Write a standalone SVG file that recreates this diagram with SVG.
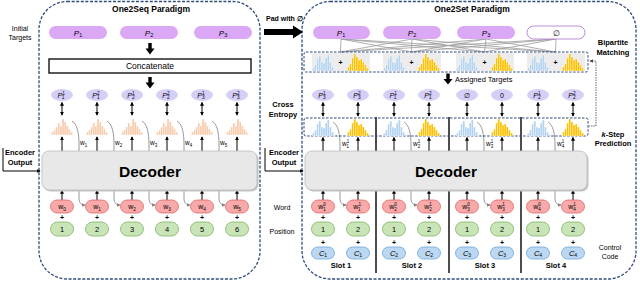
<svg xmlns="http://www.w3.org/2000/svg" xmlns:xlink="http://www.w3.org/1999/xlink" width="640" height="297" viewBox="0 0 640 297">
<style>
.t{font-family:"Liberation Sans",Arial,sans-serif;fill:#000}
.b{font-weight:bold}
.i{font-style:italic}
.pan{fill:none;stroke:#2f4b7c;stroke-width:1.3;stroke-dasharray:3 1.6}
.dbox{fill:none;stroke:#2f4b7c;stroke-width:1;stroke-dasharray:2.5 1.5}
.pbox{fill:#dba8f5}
.ell{fill:#d5cff7}
.wb{fill:#f8a9a9;stroke:#e06666;stroke-width:0.8}
.pos{fill:#c9e5b8;stroke:#82b366;stroke-width:0.8}
.cc{fill:#bcd7f1;stroke:#6fa8dc;stroke-width:0.8}
.dec{fill:#e8e8e8;stroke:#bdbdbd;stroke-width:0.8}
.sh{fill:#c4c4c4}
.arr{stroke:#000;stroke-width:1;fill:none;marker-end:url(#ah)}
.darr{stroke:#000;stroke-width:1;fill:none;marker-end:url(#ah);marker-start:url(#ah)}
.crv{fill:none;stroke:#7f7f7f;stroke-width:0.8;marker-end:url(#ahg)}
.bip{stroke:#9a9a9a;stroke-width:0.8}
.sep{stroke:#000;stroke-width:1.4}
.hbar rect{stroke:#fff;stroke-width:0.35}
.s{font-size:7px}
.lab{font-size:7.5px}
</style>
<defs>
<marker id="ah" viewBox="0 0 6 6" refX="5" refY="3" markerWidth="4" markerHeight="4" markerUnits="userSpaceOnUse" orient="auto-start-reverse"><path d="M0,0 L6,3 L0,6 z" fill="#000"/></marker>
<marker id="ahg" viewBox="0 0 6 6" refX="5" refY="3" markerWidth="3.5" markerHeight="3.5" markerUnits="userSpaceOnUse" orient="auto"><path d="M0,0 L6,3 L0,6 z" fill="#7f7f7f"/></marker>
<marker id="ahd" viewBox="0 0 6 6" refX="5" refY="3" markerWidth="3.5" markerHeight="3.5" markerUnits="userSpaceOnUse" orient="auto"><path d="M0,0 L6,3 L0,6 z" fill="#444"/></marker>
<g id="hp" class="hbar" fill="#f8cbad">
<rect x="0" y="14" width="2.1" height="3"/><rect x="2.1" y="12" width="2.1" height="5"/><rect x="4.2" y="9" width="2.1" height="8"/><rect x="6.3" y="5" width="2.1" height="12"/><rect x="8.4" y="8" width="2.1" height="9"/><rect x="10.5" y="1" width="2.1" height="16"/><rect x="12.6" y="4" width="2.1" height="13"/><rect x="14.7" y="8" width="2.1" height="9"/><rect x="16.8" y="11" width="2.1" height="6"/><rect x="18.9" y="14" width="2.1" height="3"/>
</g>
<g id="hb" class="hbar" fill="#b4d3f0">
<rect x="0" y="14" width="2.1" height="3"/><rect x="2.1" y="11" width="2.1" height="6"/><rect x="4.2" y="5" width="2.1" height="12"/><rect x="6.3" y="2" width="2.1" height="15"/><rect x="8.4" y="8" width="2.1" height="9"/><rect x="10.5" y="9" width="2.1" height="8"/><rect x="12.6" y="4" width="2.1" height="13"/><rect x="14.7" y="1" width="2.1" height="16"/><rect x="16.8" y="8" width="2.1" height="9"/><rect x="18.9" y="13" width="2.1" height="4"/>
</g>
<g id="hy" class="hbar" fill="#ffc000">
<rect x="0" y="13" width="2.1" height="4"/><rect x="2.1" y="10" width="2.1" height="7"/><rect x="4.2" y="4" width="2.1" height="13"/><rect x="6.3" y="0" width="2.1" height="17"/><rect x="8.4" y="3" width="2.1" height="14"/><rect x="10.5" y="6" width="2.1" height="11"/><rect x="12.6" y="5" width="2.1" height="12"/><rect x="14.7" y="8" width="2.1" height="9"/><rect x="16.8" y="11" width="2.1" height="6"/><rect x="18.9" y="14" width="2.1" height="3"/>
</g>
</defs>
<rect width="640" height="297" fill="#fff"/>

<!-- panels -->
<g id="panel-one2seq"><rect class="pan" x="39" y="1.5" width="221" height="277.5" rx="28"/>
<text class="t b" x="151" y="12" font-size="8.5" text-anchor="middle">One2Seq Paradigm</text></g>
<g id="panel-one2set"><rect class="pan" x="302" y="1.5" width="334" height="277.5" rx="28"/>
<text class="t b" x="472" y="12" font-size="8.5" text-anchor="middle">One2Set Paradigm</text></g>

<!-- side labels -->
<g id="labels">
<text class="t s" x="20" y="31" text-anchor="middle">Initial</text>
<text class="t s" x="20" y="40" text-anchor="middle">Targets</text>
<text class="t b lab" x="20" y="155" text-anchor="middle">Encoder</text>
<text class="t b lab" x="20" y="165" text-anchor="middle">Output</text>
<text class="t b lab" x="284" y="155" text-anchor="middle">Encoder</text>
<text class="t b lab" x="284" y="165" text-anchor="middle">Output</text>
<text class="t b s" x="266" y="21">Pad with ∅</text>
<text class="t b lab" x="283" y="107" text-anchor="middle">Cross</text>
<text class="t b lab" x="283" y="117" text-anchor="middle">Entropy</text>
<text class="t b lab" x="613" y="45" text-anchor="middle">Bipartite</text>
<text class="t b lab" x="613" y="55" text-anchor="middle">Matching</text>
<text class="t b lab" x="613" y="136.5" text-anchor="middle"><tspan class="i">k</tspan>-Step</text>
<text class="t b lab" x="613" y="146" text-anchor="middle">Prediction</text>
<text class="t lab" x="455" y="82">Assigned Targets</text>
<text class="t s" x="282" y="209.5" text-anchor="middle">Word</text>
<text class="t s" x="282" y="233.5" text-anchor="middle">Position</text>
<text class="t s" x="610" y="250" text-anchor="middle">Control</text>
<text class="t s" x="610" y="259" text-anchor="middle">Code</text>
<text class="t b lab" x="341" y="268" text-anchor="middle">Slot 1</text>
<text class="t b lab" x="412" y="268" text-anchor="middle">Slot 2</text>
<text class="t b lab" x="485" y="268" text-anchor="middle">Slot 3</text>
<text class="t b lab" x="556" y="268" text-anchor="middle">Slot 4</text>
</g>

<!-- connectors -->
<g id="connectors">
<polygon points="148.3,43 151.7,43 151.7,48.5 154.5,48.5 150,54.5 145.5,48.5 148.3,48.5" fill="#000"/>
<polygon points="148.3,77 151.7,77 151.7,82.5 154.5,82.5 150,88.5 145.5,82.5 148.3,82.5" fill="#000"/>
<polygon points="446.3,73.5 449.7,73.5 449.7,79 452.5,79 448,84.5 443.5,79 446.3,79" fill="#000"/>
<polygon points="264,29 293,29 293,25.5 303,32 293,38.5 293,35 264,35" fill="#000"/>
<path class="arr" d="M3,148 V171 H40"/>
<path class="arr" d="M265,148 V171 H303"/>
<!-- bipartite -->
<g class="bip">
<line x1="341" y1="39" x2="340.5" y2="52"/><line x1="341" y1="39" x2="411.5" y2="52"/><line x1="341" y1="39" x2="484.5" y2="52"/><line x1="341" y1="39" x2="555.5" y2="52"/>
<line x1="412" y1="39" x2="340.5" y2="52"/><line x1="412" y1="39" x2="411.5" y2="52"/><line x1="412" y1="39" x2="484.5" y2="52"/><line x1="412" y1="39" x2="555.5" y2="52"/>
<line x1="486" y1="39" x2="340.5" y2="52"/><line x1="486" y1="39" x2="411.5" y2="52"/><line x1="486" y1="39" x2="484.5" y2="52"/><line x1="486" y1="39" x2="555.5" y2="52"/>
<line x1="556" y1="39" x2="340.5" y2="52"/><line x1="556" y1="39" x2="411.5" y2="52"/><line x1="556" y1="39" x2="484.5" y2="52"/><line x1="556" y1="39" x2="555.5" y2="52"/>
</g>
<path d="M588.5,126 H596 V61 H590" fill="none" stroke="#444" stroke-width="0.8" stroke-dasharray="1.5 1" marker-end="url(#ahd)"/>
<!-- left column arrows -->
<path class="darr" d="M62,102.5 V115"/><path class="darr" d="M97,102.5 V115"/><path class="darr" d="M132,102.5 V115"/><path class="darr" d="M167,102.5 V115"/><path class="darr" d="M202,102.5 V115"/><path class="darr" d="M237,102.5 V115"/>
<path class="arr" d="M62,151 V137"/><path class="arr" d="M97,151 V137"/><path class="arr" d="M132,151 V137"/><path class="arr" d="M167,151 V137"/><path class="arr" d="M202,151 V137"/><path class="arr" d="M237,151 V137"/>
<path class="arr" d="M62,200 V190.5"/><path class="arr" d="M97,200 V190.5"/><path class="arr" d="M132,200 V190.5"/><path class="arr" d="M167,200 V190.5"/><path class="arr" d="M202,200 V190.5"/><path class="arr" d="M237,200 V190.5"/>
<path class="crv" d="M72,121 C77,124 79,132 79,145 V198 C79,203 81,205 85,205"/>
<path class="crv" d="M107,121 C112,124 114,132 114,145 V198 C114,203 116,205 120,205"/>
<path class="crv" d="M142,121 C147,124 149,132 149,145 V198 C149,203 151,205 155,205"/>
<path class="crv" d="M177,121 C182,124 184,132 184,145 V198 C184,203 186,205 190,205"/>
<path class="crv" d="M212,121 C217,124 219,132 219,145 V198 C219,203 221,205 225,205"/>
<!-- right column arrows -->
<path class="darr" d="M323,102.5 V116"/><path class="darr" d="M358,102.5 V116"/><path class="darr" d="M394,102.5 V116"/><path class="darr" d="M429,102.5 V116"/><path class="darr" d="M467,102.5 V116"/><path class="darr" d="M502,102.5 V116"/><path class="darr" d="M538,102.5 V116"/><path class="darr" d="M573,102.5 V116"/>
<path class="arr" d="M323,151 V137.5"/><path class="arr" d="M358,151 V137.5"/><path class="arr" d="M394,151 V137.5"/><path class="arr" d="M429,151 V137.5"/><path class="arr" d="M467,151 V137.5"/><path class="arr" d="M502,151 V137.5"/><path class="arr" d="M538,151 V137.5"/><path class="arr" d="M573,151 V137.5"/>
<path class="arr" d="M323,200 V190.5"/><path class="arr" d="M358,200 V190.5"/><path class="arr" d="M394,200 V190.5"/><path class="arr" d="M429,200 V190.5"/><path class="arr" d="M467,200 V190.5"/><path class="arr" d="M502,200 V190.5"/><path class="arr" d="M538,200 V190.5"/><path class="arr" d="M573,200 V190.5"/>
<path class="crv" d="M333,122 C338,125 340,133 340,146 V198 C340,203 342,205 346,205"/>
<path class="crv" d="M404,122 C409,125 411,133 411,146 V198 C411,203 413,205 417,205"/>
<path class="crv" d="M477,122 C482,125 484,133 484,146 V198 C484,203 486,205 490,205"/>
<path class="crv" d="M548,122 C553,125 555,133 555,146 V198 C555,203 557,205 561,205"/>
<line class="sep" x1="376" y1="117" x2="376" y2="273"/>
<line class="sep" x1="449" y1="117" x2="449" y2="273"/>
<line class="sep" x1="521" y1="117" x2="521" y2="273"/>
</g>

<!-- left panel nodes -->
<g id="targets-left">
<rect class="pbox" x="49" y="26" width="58" height="13" rx="6.5"/>
<rect class="pbox" x="120" y="26" width="58" height="13" rx="6.5"/>
<rect class="pbox" x="194" y="26" width="58" height="13" rx="6.5"/>
<text class="t i" x="78" y="35.5" font-size="8" text-anchor="middle">P<tspan font-size="5.5" dy="1.8" font-style="normal">1</tspan></text>
<text class="t i" x="149" y="35.5" font-size="8" text-anchor="middle">P<tspan font-size="5.5" dy="1.8" font-style="normal">2</tspan></text>
<text class="t i" x="223" y="35.5" font-size="8" text-anchor="middle">P<tspan font-size="5.5" dy="1.8" font-style="normal">3</tspan></text>
</g>
<g id="concatenate"><rect x="49" y="59" width="202" height="14" fill="#fff" stroke="#000" stroke-width="1.3"/>
<text class="t" x="150" y="69" font-size="8.5" text-anchor="middle">Concatenate</text></g>

<g id="outputs-left">
<ellipse class="ell" cx="62" cy="95" rx="11" ry="6"/><ellipse class="ell" cx="97" cy="95" rx="11" ry="6"/><ellipse class="ell" cx="132" cy="95" rx="11" ry="6"/><ellipse class="ell" cx="167" cy="95" rx="11" ry="6"/><ellipse class="ell" cx="202" cy="95" rx="11" ry="6"/><ellipse class="ell" cx="237" cy="95" rx="11" ry="6"/>
<text class="t i" x="61" y="97.5" font-size="7" text-anchor="middle">P<tspan font-size="4.8" dy="-2.8" font-style="normal">1</tspan><tspan font-size="4.8" dx="-2.7" dy="4.5" font-style="normal">1</tspan></text>
<text class="t i" x="96" y="97.5" font-size="7" text-anchor="middle">P<tspan font-size="4.8" dy="-2.8" font-style="normal">2</tspan><tspan font-size="4.8" dx="-2.7" dy="4.5" font-style="normal">1</tspan></text>
<text class="t i" x="131" y="97.5" font-size="7" text-anchor="middle">P<tspan font-size="4.8" dy="-2.8" font-style="normal">1</tspan><tspan font-size="4.8" dx="-2.7" dy="4.5" font-style="normal">2</tspan></text>
<text class="t i" x="166" y="97.5" font-size="7" text-anchor="middle">P<tspan font-size="4.8" dy="-2.8" font-style="normal">2</tspan><tspan font-size="4.8" dx="-2.7" dy="4.5" font-style="normal">2</tspan></text>
<text class="t i" x="201" y="97.5" font-size="7" text-anchor="middle">P<tspan font-size="4.8" dy="-2.8" font-style="normal">1</tspan><tspan font-size="4.8" dx="-2.7" dy="4.5" font-style="normal">3</tspan></text>
<text class="t i" x="236" y="97.5" font-size="7" text-anchor="middle">P<tspan font-size="4.8" dy="-2.8" font-style="normal">2</tspan><tspan font-size="4.8" dx="-2.7" dy="4.5" font-style="normal">3</tspan></text>
</g>
<g id="dists-left">
<use xlink:href="#hp" x="51.5" y="118"/><use xlink:href="#hp" x="86.5" y="118"/><use xlink:href="#hp" x="121.5" y="118"/><use xlink:href="#hp" x="156.5" y="118"/><use xlink:href="#hp" x="191.5" y="118"/><use xlink:href="#hp" x="226.5" y="118"/>
<text class="t" x="80" y="145" font-size="6.5">w<tspan font-size="4.5" dy="1.5">1</tspan></text>
<text class="t" x="115" y="145" font-size="6.5">w<tspan font-size="4.5" dy="1.5">2</tspan></text>
<text class="t" x="150" y="145" font-size="6.5">w<tspan font-size="4.5" dy="1.5">3</tspan></text>
<text class="t" x="185" y="145" font-size="6.5">w<tspan font-size="4.5" dy="1.5">4</tspan></text>
<text class="t" x="220" y="145" font-size="6.5">w<tspan font-size="4.5" dy="1.5">5</tspan></text>
</g>
<g id="decoder-left"><rect class="sh" x="43.5" y="152.5" width="215" height="39" rx="7"/><rect class="dec" x="42" y="151" width="215" height="39" rx="7"/>
<text class="t b" x="150" y="177" font-size="15.5" text-anchor="middle">Decoder</text></g>
<g id="inputs-left">
<rect class="wb" x="50.5" y="200" width="23" height="13" rx="6.5"/><rect class="wb" x="85.5" y="200" width="23" height="13" rx="6.5"/><rect class="wb" x="120.5" y="200" width="23" height="13" rx="6.5"/><rect class="wb" x="155.5" y="200" width="23" height="13" rx="6.5"/><rect class="wb" x="190.5" y="200" width="23" height="13" rx="6.5"/><rect class="wb" x="225.5" y="200" width="23" height="13" rx="6.5"/>
<text class="t" x="62" y="209" font-size="7" text-anchor="middle">w<tspan font-size="4.8" dy="1.5">0</tspan></text>
<text class="t" x="97" y="209" font-size="7" text-anchor="middle">w<tspan font-size="4.8" dy="1.5">1</tspan></text>
<text class="t" x="132" y="209" font-size="7" text-anchor="middle">w<tspan font-size="4.8" dy="1.5">2</tspan></text>
<text class="t" x="167" y="209" font-size="7" text-anchor="middle">w<tspan font-size="4.8" dy="1.5">3</tspan></text>
<text class="t" x="202" y="209" font-size="7" text-anchor="middle">w<tspan font-size="4.8" dy="1.5">4</tspan></text>
<text class="t" x="237" y="209" font-size="7" text-anchor="middle">w<tspan font-size="4.8" dy="1.5">5</tspan></text>
<g class="t b" font-size="7" text-anchor="middle"><text x="62" y="220">+</text><text x="97" y="220">+</text><text x="132" y="220">+</text><text x="167" y="220">+</text><text x="202" y="220">+</text><text x="237" y="220">+</text></g>
<rect class="pos" x="50.5" y="222" width="23" height="14" rx="7"/><rect class="pos" x="85.5" y="222" width="23" height="14" rx="7"/><rect class="pos" x="120.5" y="222" width="23" height="14" rx="7"/><rect class="pos" x="155.5" y="222" width="23" height="14" rx="7"/><rect class="pos" x="190.5" y="222" width="23" height="14" rx="7"/><rect class="pos" x="225.5" y="222" width="23" height="14" rx="7"/>
<g class="t" font-size="7.5" text-anchor="middle"><text x="62" y="231.8">1</text><text x="97" y="231.8">2</text><text x="132" y="231.8">3</text><text x="167" y="231.8">4</text><text x="202" y="231.8">5</text><text x="237" y="231.8">6</text></g>
</g>

<!-- right panel nodes -->
<g id="targets-right">
<rect class="pbox" x="313" y="26" width="57" height="13" rx="6.5"/>
<rect class="pbox" x="383" y="26" width="58" height="13" rx="6.5"/>
<rect class="pbox" x="457" y="26" width="58" height="13" rx="6.5"/>
<rect x="527" y="26" width="58" height="13" rx="6.5" fill="#fff" stroke="#b57fd6" stroke-width="0.9"/>
<text class="t i" x="341" y="35.5" font-size="8" text-anchor="middle">P<tspan font-size="5.5" dy="1.8" font-style="normal">1</tspan></text>
<text class="t i" x="412" y="35.5" font-size="8" text-anchor="middle">P<tspan font-size="5.5" dy="1.8" font-style="normal">2</tspan></text>
<text class="t i" x="486" y="35.5" font-size="8" text-anchor="middle">P<tspan font-size="5.5" dy="1.8" font-style="normal">3</tspan></text>
<text class="t" x="556" y="35.5" font-size="8" text-anchor="middle">∅</text>
</g>
<g id="matching-box">
<rect class="dbox" x="304" y="52" width="284" height="20" rx="2"/>
<rect x="312" y="53" width="58" height="18" fill="#ececec"/><rect x="383" y="53" width="58" height="18" fill="#ececec"/><rect x="456" y="53" width="58" height="18" fill="#ececec"/><rect x="527" y="53" width="58" height="18" fill="#ececec"/>
<use xlink:href="#hb" x="312.5" y="54"/><use xlink:href="#hy" x="347.5" y="54"/>
<use xlink:href="#hb" x="383.5" y="54"/><use xlink:href="#hy" x="418.5" y="54"/>
<use xlink:href="#hb" x="456.5" y="54"/><use xlink:href="#hy" x="491.5" y="54"/>
<use xlink:href="#hb" x="527.5" y="54"/><use xlink:href="#hy" x="562.5" y="54"/>
<g class="t b" font-size="7" text-anchor="middle"><text x="340.5" y="65">+</text><text x="411.5" y="65">+</text><text x="484.5" y="65">+</text><text x="555.5" y="65">+</text></g>
</g>
<g id="outputs-right">
<ellipse class="ell" cx="323" cy="95" rx="11" ry="6"/><ellipse class="ell" cx="358" cy="95" rx="11" ry="6"/><ellipse class="ell" cx="394" cy="95" rx="11" ry="6"/><ellipse class="ell" cx="429" cy="95" rx="11" ry="6"/><ellipse class="ell" cx="467" cy="95" rx="11" ry="6"/><ellipse class="ell" cx="502" cy="95" rx="11" ry="6"/><ellipse class="ell" cx="538" cy="95" rx="11" ry="6"/><ellipse class="ell" cx="573" cy="95" rx="11" ry="6"/>
<text class="t i" x="322" y="97.5" font-size="7" text-anchor="middle">P<tspan font-size="4.8" dy="-2.8" font-style="normal">1</tspan><tspan font-size="4.8" dx="-2.7" dy="4.5" font-style="normal">3</tspan></text>
<text class="t i" x="357" y="97.5" font-size="7" text-anchor="middle">P<tspan font-size="4.8" dy="-2.8" font-style="normal">2</tspan><tspan font-size="4.8" dx="-2.7" dy="4.5" font-style="normal">3</tspan></text>
<text class="t i" x="393" y="97.5" font-size="7" text-anchor="middle">P<tspan font-size="4.8" dy="-2.8" font-style="normal">1</tspan><tspan font-size="4.8" dx="-2.7" dy="4.5" font-style="normal">1</tspan></text>
<text class="t i" x="428" y="97.5" font-size="7" text-anchor="middle">P<tspan font-size="4.8" dy="-2.8" font-style="normal">2</tspan><tspan font-size="4.8" dx="-2.7" dy="4.5" font-style="normal">1</tspan></text>
<text class="t" x="467" y="97.5" font-size="7" text-anchor="middle">∅</text>
<text class="t" x="502" y="97.5" font-size="7" text-anchor="middle">0</text>
<text class="t i" x="537" y="97.5" font-size="7" text-anchor="middle">P<tspan font-size="4.8" dy="-2.8" font-style="normal">1</tspan><tspan font-size="4.8" dx="-2.7" dy="4.5" font-style="normal">2</tspan></text>
<text class="t i" x="572" y="97.5" font-size="7" text-anchor="middle">P<tspan font-size="4.8" dy="-2.8" font-style="normal">2</tspan><tspan font-size="4.8" dx="-2.7" dy="4.5" font-style="normal">2</tspan></text>
</g>
<g id="prediction-box">
<rect class="dbox" x="304" y="118" width="284" height="18" rx="2"/>
<use xlink:href="#hb" x="312.5" y="119"/><use xlink:href="#hy" x="347.5" y="119"/>
<use xlink:href="#hb" x="383.5" y="119"/><use xlink:href="#hy" x="418.5" y="119"/>
<use xlink:href="#hb" x="456.5" y="119"/><use xlink:href="#hy" x="491.5" y="119"/>
<use xlink:href="#hb" x="527.5" y="119"/><use xlink:href="#hy" x="562.5" y="119"/>
<g class="t" font-size="6.5"><text x="342" y="146">w<tspan font-size="4.5" dy="-2.6">1</tspan><tspan font-size="4.5" dx="-2.5" dy="4.2">1</tspan></text>
<text x="413" y="146">w<tspan font-size="4.5" dy="-2.6">1</tspan><tspan font-size="4.5" dx="-2.5" dy="4.2">2</tspan></text>
<text x="486" y="146">w<tspan font-size="4.5" dy="-2.6">1</tspan><tspan font-size="4.5" dx="-2.5" dy="4.2">3</tspan></text>
<text x="557" y="146">w<tspan font-size="4.5" dy="-2.6">1</tspan><tspan font-size="4.5" dx="-2.5" dy="4.2">4</tspan></text></g>
</g>
<g id="decoder-right"><rect class="sh" x="306.5" y="152.5" width="282" height="39" rx="7"/><rect class="dec" x="305" y="151" width="282" height="39" rx="7"/>
<text class="t b" x="446" y="177" font-size="15.5" text-anchor="middle">Decoder</text></g>
<g id="inputs-right">
<rect class="wb" x="311.5" y="200" width="23" height="13" rx="6.5"/><rect class="wb" x="346.5" y="200" width="23" height="13" rx="6.5"/><rect class="wb" x="382.5" y="200" width="23" height="13" rx="6.5"/><rect class="wb" x="417.5" y="200" width="23" height="13" rx="6.5"/><rect class="wb" x="455.5" y="200" width="23" height="13" rx="6.5"/><rect class="wb" x="490.5" y="200" width="23" height="13" rx="6.5"/><rect class="wb" x="526.5" y="200" width="23" height="13" rx="6.5"/><rect class="wb" x="561.5" y="200" width="23" height="13" rx="6.5"/>
<g class="t" font-size="7" text-anchor="middle">
<text x="322" y="209">w<tspan font-size="4.6" dy="-2.6">0</tspan><tspan font-size="4.6" dx="-2.6" dy="4.2">1</tspan></text>
<text x="357" y="209">w<tspan font-size="4.6" dy="-2.6">1</tspan><tspan font-size="4.6" dx="-2.6" dy="4.2">1</tspan></text>
<text x="393" y="209">w<tspan font-size="4.6" dy="-2.6">0</tspan><tspan font-size="4.6" dx="-2.6" dy="4.2">2</tspan></text>
<text x="428" y="209">w<tspan font-size="4.6" dy="-2.6">1</tspan><tspan font-size="4.6" dx="-2.6" dy="4.2">2</tspan></text>
<text x="466" y="209">w<tspan font-size="4.6" dy="-2.6">0</tspan><tspan font-size="4.6" dx="-2.6" dy="4.2">3</tspan></text>
<text x="501" y="209">w<tspan font-size="4.6" dy="-2.6">1</tspan><tspan font-size="4.6" dx="-2.6" dy="4.2">3</tspan></text>
<text x="537" y="209">w<tspan font-size="4.6" dy="-2.6">0</tspan><tspan font-size="4.6" dx="-2.6" dy="4.2">4</tspan></text>
<text x="572" y="209">w<tspan font-size="4.6" dy="-2.6">1</tspan><tspan font-size="4.6" dx="-2.6" dy="4.2">4</tspan></text>
</g>
<g class="t b" font-size="7" text-anchor="middle"><text x="323" y="220">+</text><text x="358" y="220">+</text><text x="394" y="220">+</text><text x="429" y="220">+</text><text x="467" y="220">+</text><text x="502" y="220">+</text><text x="538" y="220">+</text><text x="573" y="220">+</text>
<text x="323" y="244.5">+</text><text x="358" y="244.5">+</text><text x="394" y="244.5">+</text><text x="429" y="244.5">+</text><text x="467" y="244.5">+</text><text x="502" y="244.5">+</text><text x="538" y="244.5">+</text><text x="573" y="244.5">+</text></g>
<rect class="pos" x="311.5" y="222" width="23" height="14" rx="7"/><rect class="pos" x="346.5" y="222" width="23" height="14" rx="7"/><rect class="pos" x="382.5" y="222" width="23" height="14" rx="7"/><rect class="pos" x="417.5" y="222" width="23" height="14" rx="7"/><rect class="pos" x="455.5" y="222" width="23" height="14" rx="7"/><rect class="pos" x="490.5" y="222" width="23" height="14" rx="7"/><rect class="pos" x="526.5" y="222" width="23" height="14" rx="7"/><rect class="pos" x="561.5" y="222" width="23" height="14" rx="7"/>
<g class="t" font-size="7.5" text-anchor="middle"><text x="323" y="231.8">1</text><text x="358" y="231.8">2</text><text x="394" y="231.8">1</text><text x="429" y="231.8">2</text><text x="467" y="231.8">1</text><text x="502" y="231.8">2</text><text x="538" y="231.8">1</text><text x="573" y="231.8">2</text></g>
<rect class="cc" x="311.5" y="247" width="23" height="12" rx="6"/><rect class="cc" x="346.5" y="247" width="23" height="12" rx="6"/><rect class="cc" x="382.5" y="247" width="23" height="12" rx="6"/><rect class="cc" x="417.5" y="247" width="23" height="12" rx="6"/><rect class="cc" x="455.5" y="247" width="23" height="12" rx="6"/><rect class="cc" x="490.5" y="247" width="23" height="12" rx="6"/><rect class="cc" x="526.5" y="247" width="23" height="12" rx="6"/><rect class="cc" x="561.5" y="247" width="23" height="12" rx="6"/>
<g class="t i" font-size="7.5" text-anchor="middle">
<text x="323" y="255.5">C<tspan font-size="5" dy="1.5" font-style="normal">1</tspan></text><text x="358" y="255.5">C<tspan font-size="5" dy="1.5" font-style="normal">1</tspan></text>
<text x="394" y="255.5">C<tspan font-size="5" dy="1.5" font-style="normal">2</tspan></text><text x="429" y="255.5">C<tspan font-size="5" dy="1.5" font-style="normal">2</tspan></text>
<text x="467" y="255.5">C<tspan font-size="5" dy="1.5" font-style="normal">3</tspan></text><text x="502" y="255.5">C<tspan font-size="5" dy="1.5" font-style="normal">3</tspan></text>
<text x="538" y="255.5">C<tspan font-size="5" dy="1.5" font-style="normal">4</tspan></text><text x="573" y="255.5">C<tspan font-size="5" dy="1.5" font-style="normal">4</tspan></text>
</g>
</g>
</svg>
